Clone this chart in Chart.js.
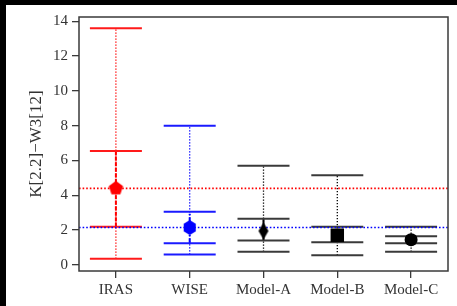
<!DOCTYPE html>
<html>
<head>
<meta charset="utf-8">
<script src="https://cdn.jsdelivr.net/npm/chart.js@4.4.1/dist/chart.umd.min.js"></script>
<style>
  html, body { margin: 0; padding: 0; background: #000; }
  #wrap { position: absolute; left: 6px; top: 5px; width: 451px; height: 301px; background: #fff; }
  canvas { display: block; }
</style>
</head>
<body>
<div id="wrap"><canvas id="chart" width="451" height="301"></canvas></div>
<script>
const categories = ['IRAS', 'WISE', 'Model-A', 'Model-B', 'Model-C'];
const medians  = [4.4, 2.15, 1.95, 1.7, 1.45];
const lowMin   = [0.35, 0.6, 0.75, 0.55, 0.75];
const lowQ     = [2.2, 1.25, 1.4, 1.3, 1.25];
const highQ    = [6.55, 3.05, 2.65, 2.2, 1.65];
const highMax  = [13.6, 8.0, 5.7, 5.15, 2.2];
const irasRef = 4.4;
const wiseRef = 2.15;
const yTicks = [0, 2, 4, 6, 8, 10, 12, 14];

const markColors = ['#ff0000', '#0000ff', '#000000', '#000000', '#000000'];
const capColors = ['#ff1a1a', '#1a1aff', '#3a3a3a', '#3a3a3a', '#3a3a3a'];
const innerDash = [[4, 1.5], [5, 2, 1.5, 2], [], [1.5, 1.5], [1.5, 1.5]];
const serif = '"Liberation Serif", "DejaVu Serif", serif';

// polygon markers drawn on small canvases (pentagon, hexagon, thin diamond)
function polyMarker(sides, rx, ry, color) {
    const c = document.createElement('canvas');
    c.width = Math.ceil(rx * 2 + 2);
    c.height = Math.ceil(ry * 2 + 2);
    const g = c.getContext('2d');
    g.fillStyle = color;
    g.beginPath();
    for (let i = 0; i < sides; i++) {
        const a = -Math.PI / 2 + i * 2 * Math.PI / sides;
        const px = c.width / 2 + rx * Math.cos(a);
        const py = c.height / 2 + ry * Math.sin(a);
        if (i === 0) g.moveTo(px, py); else g.lineTo(px, py);
    }
    g.closePath();
    g.fill();
    return c;
}

const markerStyles = [
    polyMarker(5, 7.5, 7.5, '#ff0000'),
    polyMarker(6, 7, 7.5, '#0000ff'),
    polyMarker(4, 5, 8.5, '#000000'),
    'rect',
    'circle'
];
const markerRadius = [7, 7, 8, 9.5, 6.5];

const datasets = [];

// markers on top
categories.forEach((cat, i) => {
    datasets.push({
        data: [{ x: cat, y: medians[i] }],
        showLine: false,
        pointStyle: markerStyles[i],
        pointRadius: markerRadius[i],
        backgroundColor: markColors[i],
        borderColor: markColors[i],
        borderWidth: 0,
        order: 0
    });
});

// reference lines across the plot
[[irasRef, '#ff0000'], [wiseRef, '#0000ff']].forEach(([v, col]) => {
    datasets.push({
        xAxisID: 'x2',
        data: [{ x: 0, y: v }, { x: 1, y: v }],
        borderColor: col,
        borderWidth: 1.6,
        borderDash: [1.6, 2],
        pointRadius: 0,
        order: 1
    });
});

// caps
categories.forEach((cat, i) => {
    datasets.push({
        data: [lowMin[i], lowQ[i], highQ[i], highMax[i]].map(v => ({ x: cat, y: v })),
        showLine: false,
        pointStyle: 'line',
        pointRadius: 26,
        borderColor: capColors[i],
        borderWidth: 2,
        order: 2
    });
});

// whiskers
categories.forEach((cat, i) => {
    datasets.push({
        data: [{ x: cat, y: lowMin[i] }, { x: cat, y: highMax[i] }],
        borderColor: markColors[i],
        borderWidth: 1.3,
        borderDash: [1.3, 1.7],
        pointRadius: 0,
        order: 4
    });
    datasets.push({
        data: [{ x: cat, y: lowQ[i] }, { x: cat, y: highQ[i] }],
        borderColor: markColors[i],
        borderWidth: 2,
        borderDash: innerDash[i],
        pointRadius: 0,
        order: 3
    });
});

const frame = {
    id: 'frame',
    afterDatasetsDraw(chart) {
        const { ctx, chartArea: a } = chart;
        ctx.save();
        ctx.strokeStyle = '#3a3a3a';
        ctx.lineWidth = 1.5;
        ctx.strokeRect(a.left, a.top, a.right - a.left, a.bottom - a.top);
        ctx.restore();
    }
};

new Chart(document.getElementById('chart').getContext('2d'), {
    type: 'line',
    data: { labels: categories, datasets: datasets },
    options: {
        responsive: false,
        animation: false,
        events: [],
        devicePixelRatio: 1,
        layout: { autoPadding: false, padding: { left: 0, top: 12, right: 9, bottom: 0 } },
        plugins: { legend: { display: false }, tooltip: { enabled: false } },
        scales: {
            x: {
                type: 'category',
                offset: true,
                afterFit: s => { s.height = 35; s.paddingLeft = 0; s.paddingRight = 0; },
                grid: { display: true, drawOnChartArea: false, drawTicks: true, tickLength: 7, color: '#3a3a3a', lineWidth: 1.3 },
                border: { display: false },
                ticks: { color: '#333', padding: 3, maxRotation: 0, font: { family: serif, size: 15 } }
            },
            x2: {
                type: 'linear',
                display: false,
                min: 0,
                max: 1
            },
            y: {
                min: -0.35,
                max: 14.25,
                afterBuildTicks: s => { s.ticks = yTicks.map(v => ({ value: v })); },
                afterFit: s => { s.width = 73; s.paddingTop = 0; s.paddingBottom = 0; },
                grid: { display: true, drawOnChartArea: false, drawTicks: true, tickLength: 7, color: '#3a3a3a', lineWidth: 1.3 },
                border: { display: false },
                ticks: { color: '#333', padding: 4, font: { family: serif, size: 15 } },
                title: {
                    display: true,
                    text: 'K[2.2]\u2212W3[12]',
                    color: '#333',
                    font: { family: serif, size: 17 },
                    padding: { top: 20, bottom: 0 }
                }
            }
        }
    },
    plugins: [frame]
});
</script>
</body>
</html>
